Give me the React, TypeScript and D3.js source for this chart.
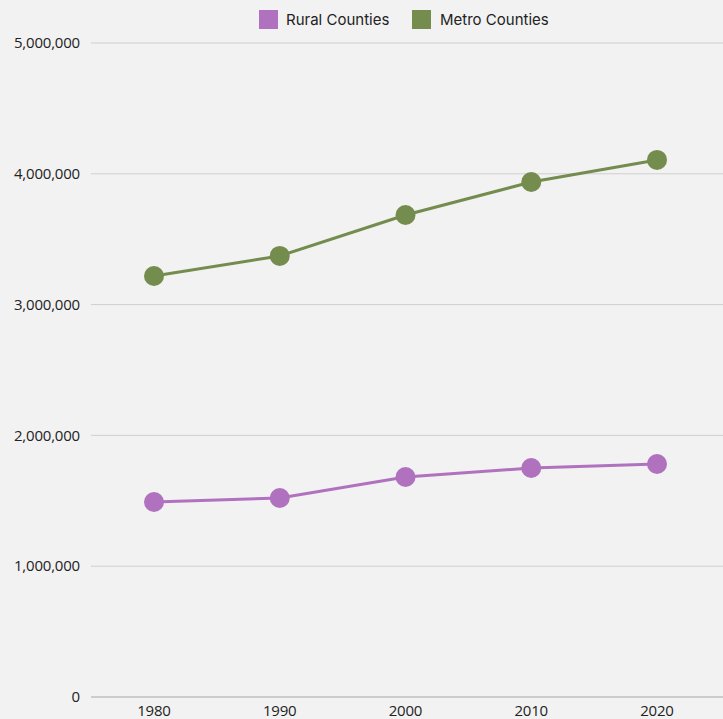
import React from "react";
import * as d3 from "d3";

const years = ["1980", "1990", "2000", "2010", "2020"];
const ruralValues = [1491000, 1521000, 1682000, 1751000, 1781000];
const metroValues = [3219000, 3372000, 3685000, 3937000, 4106000];
const yTicks = [0, 1000000, 2000000, 3000000, 4000000, 5000000];
const seriesNames = ["Rural Counties", "Metro Counties"];
const seriesColors = ["#b072bf", "#748c4e"];

const W = 723;
const H = 719;
const left = 91;
const right = 723;
const top = 43;
const bottom = 697;

export default function App() {
  const x = d3.scalePoint<string>().domain(years).range([154, 657]);
  const y = d3.scaleLinear().domain([0, 5000000]).range([bottom, top]);
  const fmt = d3.format(",");
  const line = d3
    .line<number>()
    .x((_, i) => x(years[i]) as number)
    .y((d) => y(d));
  const series = [ruralValues, metroValues];
  return (
    <svg
      width={W}
      height={H}
      style={{ position: "absolute", left: 0, top: 0, background: "#f2f2f2" }}
      fontFamily="'Open Sans', sans-serif"
    >
      <rect width={W} height={H} fill="#f2f2f2" />
      {yTicks.map((t) => (
        <g key={t}>
          <line
            x1={left}
            x2={right}
            y1={y(t)}
            y2={y(t)}
            stroke={t === 0 ? "#a6a6a6" : "#cfcfcf"}
            strokeWidth={1}
          />
          <text x={80} y={y(t)} dy="0.35em" textAnchor="end" fontSize={15} fill="#222" letterSpacing={-0.2}>
            {fmt(t)}
          </text>
        </g>
      ))}
      {years.map((yr) => (
        <text key={yr} x={x(yr)} y={716} textAnchor="middle" fontSize={15} fill="#222" letterSpacing={-0.2}>
          {yr}
        </text>
      ))}
      {series.map((vals, si) => (
        <g key={si}>
          <path d={line(vals) || ""} fill="none" stroke={seriesColors[si]} strokeWidth={3} />
          {vals.map((v, i) => (
            <circle key={i} cx={x(years[i])} cy={y(v)} r={10} fill={seriesColors[si]} />
          ))}
        </g>
      ))}
      <g fontFamily="Inter, sans-serif" fontSize={15} fill="#222">
        <rect x={259} y={10} width={19} height={19} fill={seriesColors[0]} />
        <text x={286} y={20} dy="0.35em">{seriesNames[0]}</text>
        <rect x={412} y={10} width={19} height={19} fill={seriesColors[1]} />
        <text x={440} y={20} dy="0.35em">{seriesNames[1]}</text>
      </g>
    </svg>
  );
}
